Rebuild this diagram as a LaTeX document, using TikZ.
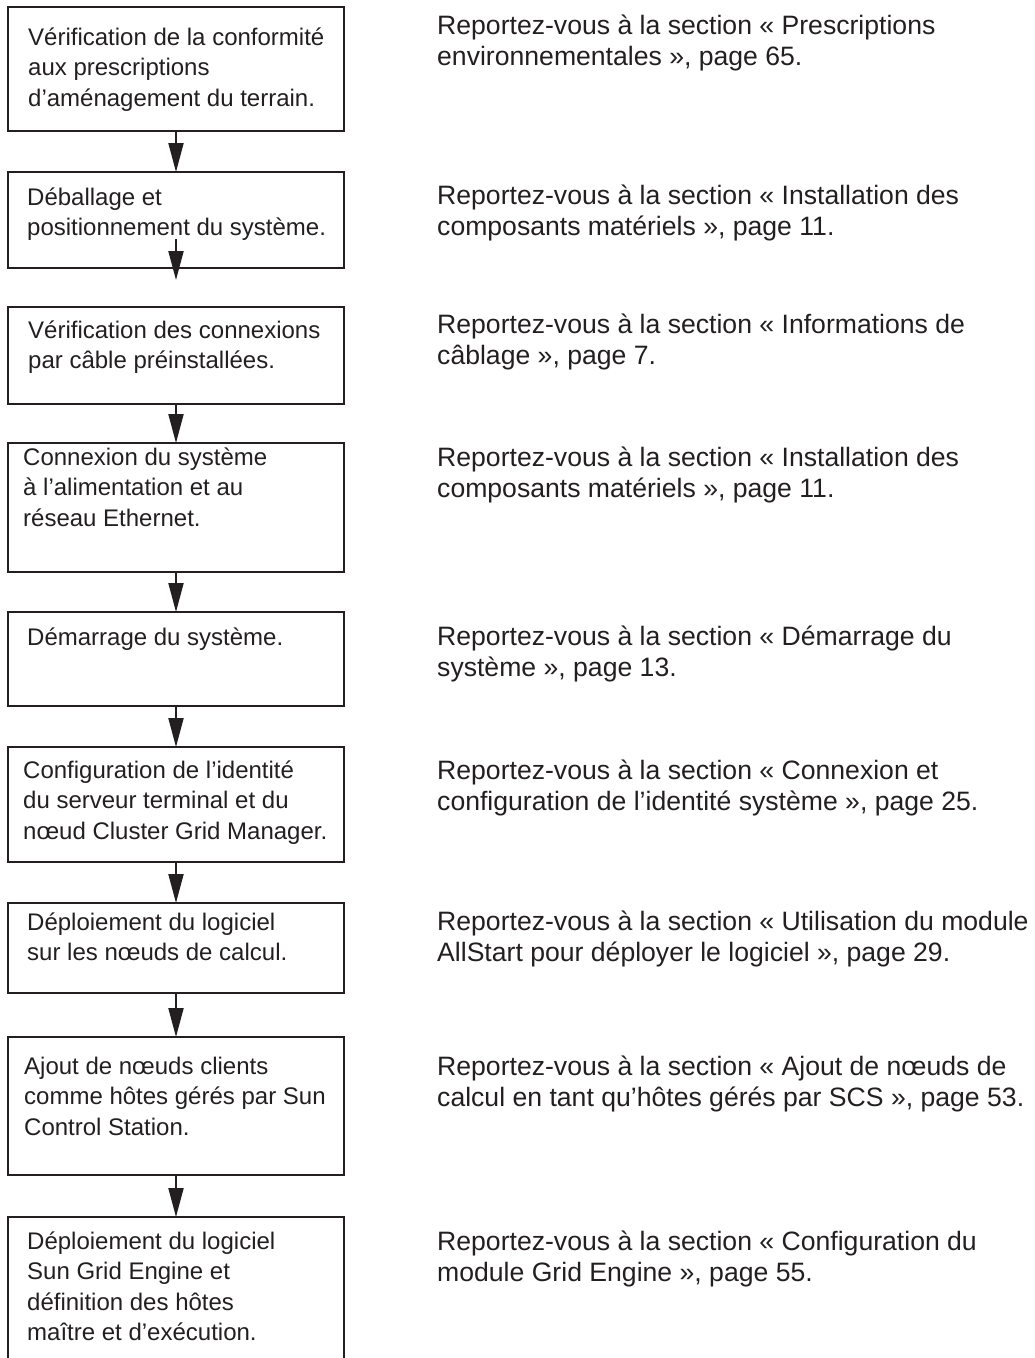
\documentclass[tikz,border=0pt]{standalone}
\usepackage{fontspec}
\setmainfont{Liberation Sans}
\usetikzlibrary{arrows.meta}
\definecolor{ink}{HTML}{231F20}
\tikzset{
  stepbox/.style={draw=ink, line width=2pt, rectangle, minimum width=336pt, anchor=north west, inner sep=0pt, outer sep=0pt},
  boxtext/.style={anchor=north west, inner sep=0pt, align=left, text=ink, font=\fontsize{24}{30.5}\selectfont},
  reftext/.style={anchor=north west, inner sep=0pt, align=left, text=ink, font=\fontsize{26.6}{31.5}\selectfont},
  arr/.style={draw=ink, line width=2pt, -{Triangle[length=29pt, width=15pt]}},
}
\newcommand{\fl}{\rule{0pt}{20pt}}
\newcommand{\fr}{\rule{0pt}{22pt}}
\begin{document}
\begin{tikzpicture}[x=1pt, y=1pt]
\useasboundingbox (0,0) rectangle (1034,-1358);
% boxes
\node[stepbox, minimum height=124pt] (b1) at (8,-7) {};
\node[stepbox, minimum height=96pt] (b2) at (8,-172) {};
\node[stepbox, minimum height=97pt] (b3) at (8,-307) {};
\node[stepbox, minimum height=129pt] (b4) at (8,-443) {};
\node[stepbox, minimum height=94pt] (b5) at (8,-612) {};
\node[stepbox, minimum height=115pt] (b6) at (8,-747) {};
\node[stepbox, minimum height=90pt] (b7) at (8,-903) {};
\node[stepbox, minimum height=138pt] (b8) at (8,-1037) {};
\node[anchor=north west, minimum width=336pt, minimum height=141pt, inner sep=0pt, outer sep=0pt] (b9) at (8,-1217) {};
\draw[draw=ink, line width=2pt] (b9.south west) -- (b9.north west) -- (b9.north east) -- (b9.south east);
% box texts
\node[boxtext] (t1) at (28,-25) {\fl Vérification de la conformité\\aux prescriptions\\d’aménagement du terrain.};
\node[boxtext] (t2) at (27,-185) {\fl Déballage et\\positionnement du système.};
\node[boxtext] (t3) at (28,-318) {\fl Vérification des connexions\\par câble préinstallées.};
\node[boxtext] (t4) at (23,-445) {\fl Connexion du système\\à l’alimentation et au\\réseau Ethernet.};
\node[boxtext] (t5) at (27,-625) {\fl Démarrage du système.};
\node[boxtext] (t6) at (23,-758) {\fl Configuration de l’identité\\du serveur terminal et du\\nœud Cluster Grid Manager.};
\node[boxtext] (t7) at (27,-910) {\fl Déploiement du logiciel\\sur les nœuds de calcul.};
\node[boxtext] (t8) at (24,-1054) {\fl Ajout de nœuds clients\\comme hôtes gérés par Sun\\Control Station.};
\node[boxtext] (t9) at (27,-1229) {\fl Déploiement du logiciel\\Sun Grid Engine et\\définition des hôtes\\maître et d’exécution.};
% reference texts
\node[reftext] (r1) at (437,-12) {\fr Reportez-vous à la section « Prescriptions\\environnementales », page 65.};
\node[reftext] (r2) at (437,-182) {\fr Reportez-vous à la section « Installation des\\composants matériels », page 11.};
\node[reftext] (r3) at (437,-311) {\fr Reportez-vous à la section « Informations de\\câblage », page 7.};
\node[reftext] (r4) at (437,-444) {\fr Reportez-vous à la section « Installation des\\composants matériels », page 11.};
\node[reftext] (r5) at (437,-623) {\fr Reportez-vous à la section « Démarrage du\\système », page 13.};
\node[reftext] (r6) at (437,-757) {\fr Reportez-vous à la section « Connexion et\\configuration de l’identité système », page 25.};
\node[reftext] (r7) at (437,-908) {\fr Reportez-vous à la section « Utilisation du module\\AllStart pour déployer le logiciel », page 29.};
\node[reftext] (r8) at (437,-1053) {\fr Reportez-vous à la section « Ajout de nœuds de\\calcul en tant qu’hôtes gérés par SCS », page 53.};
\node[reftext] (r9) at (437,-1228) {\fr Reportez-vous à la section « Configuration du\\module Grid Engine », page 55.};
% connectors
\coordinate (a2s) at (176,-239);
\coordinate (a2e) at (176,-280);
\draw[arr] (b1.south) -- (b2.north);
\draw[arr] (a2s) -- (a2e);
\draw[arr] (b3.south) -- (b4.north);
\draw[arr] (b4.south) -- (b5.north);
\draw[arr] (b5.south) -- (b6.north);
\draw[arr] (b6.south) -- (b7.north);
\draw[arr] (b7.south) -- (b8.north);
\draw[arr] (b8.south) -- (b9.north);
\end{tikzpicture}
\end{document}
